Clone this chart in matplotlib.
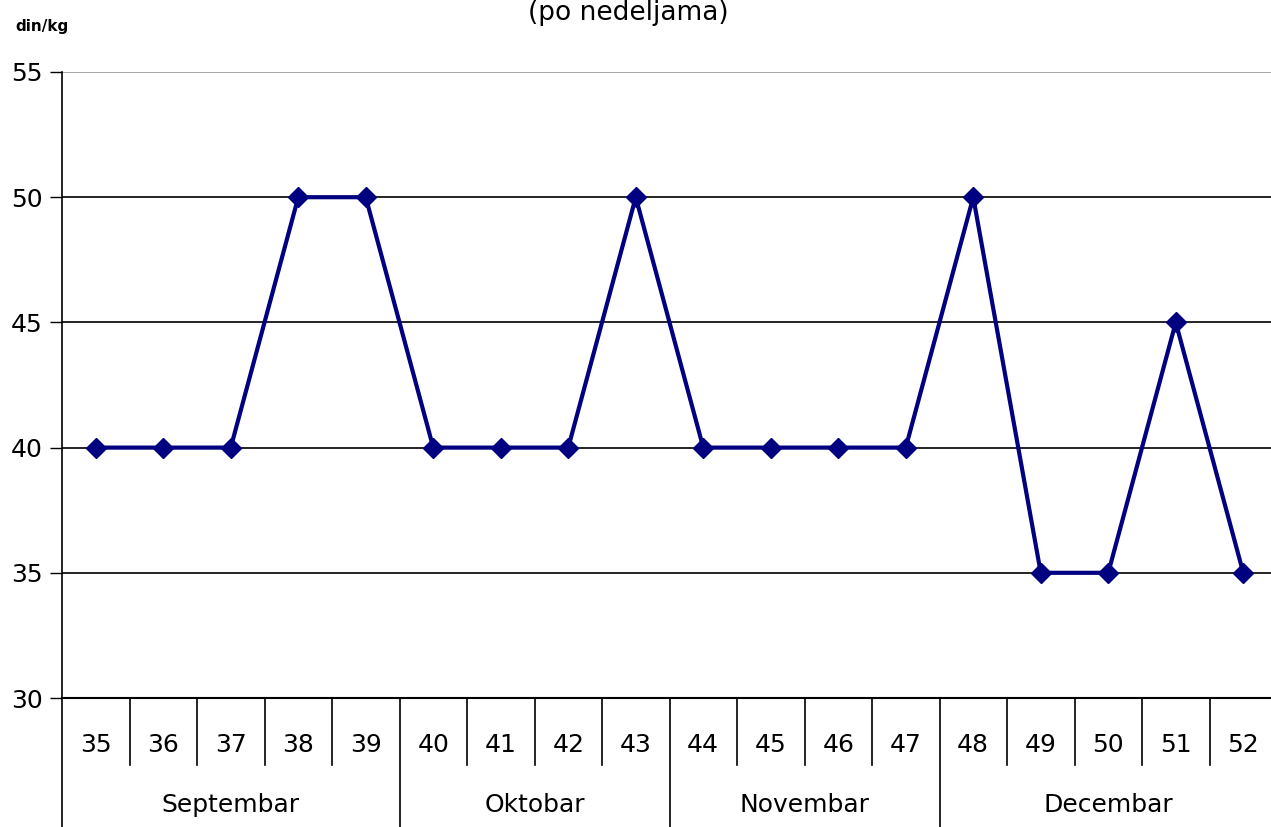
import matplotlib
matplotlib.use("Agg")
import matplotlib.pyplot as plt
import matplotlib.transforms as mtransforms

weeks = [35, 36, 37, 38, 39, 40, 41, 42, 43, 44, 45, 46, 47, 48, 49, 50, 51, 52]
prices = [40, 40, 40, 50, 50, 40, 40, 40, 50, 40, 40, 40, 40, 50, 35, 35, 45, 35]
months = ["Septembar", "Oktobar", "Novembar", "Decembar"]
month_sizes = [5, 4, 4, 5]
yticks = [30, 35, 40, 45, 50, 55]

plt.rcParams['font.family'] = ['DejaVu Sans']
FS = 18

W, H = 1271, 827
fig = plt.figure(figsize=(W / 100, H / 100), dpi=100)
left, right, top, bottom = 62, 1277, 72, 698
ax = fig.add_axes([left / W, 1 - bottom / H, (right - left) / W, (bottom - top) / H])

x = list(range(len(weeks)))
ax.plot(x, prices, color="#000080", lw=3, marker="D", ms=10, zorder=3)

ax.set_xlim(-0.5, len(weeks) - 0.5)
ax.set_ylim(30, 55)
ax.set_yticks(yticks)
ax.tick_params(axis="y", labelsize=FS, length=9, width=1, pad=5)
ax.set_xticks([])
for y in yticks[1:-1]:
    ax.axhline(y, color="black", lw=1.2, zorder=1)
ax.axhline(55, color="#999999", lw=1.2, zorder=1)

for s in ["top", "right"]:
    ax.spines[s].set_visible(False)
ax.spines["left"].set_linewidth(1.2)
ax.spines["bottom"].set_linewidth(1.5)

# category axis: weeks and months
px = (bottom - top)
trans = mtransforms.blended_transform_factory(ax.transData, ax.transAxes)
week_h = (765 - bottom) / px
month_h = (H - bottom + 5) / px
for i, w in enumerate(weeks):
    ax.text(i, -(745 - bottom) / px, str(w), transform=trans, ha="center", va="center",
            fontsize=FS)
boundaries = set()
pos = 0
for m, n in zip(months, month_sizes):
    boundaries.add(pos)
    ax.text(pos + n / 2 - 0.5, -(805 - bottom) / px, m, transform=trans,
            ha="center", va="center", fontsize=FS)
    pos += n
for i in range(len(weeks)):
    b = i - 0.5
    depth = month_h if i in boundaries else week_h
    ax.plot([b, b], [0, -depth], transform=trans, color="black", lw=1.2,
            clip_on=False)

fig.text(628 / W, 1 - 13 / H, "(po nedeljama)", ha="center", va="center", fontsize=19)
fig.text(15 / W, 1 - 27 / H, "din/kg", ha="left", va="center", fontsize=11,
         fontweight="bold")

fig.savefig("out.png", dpi=100)
